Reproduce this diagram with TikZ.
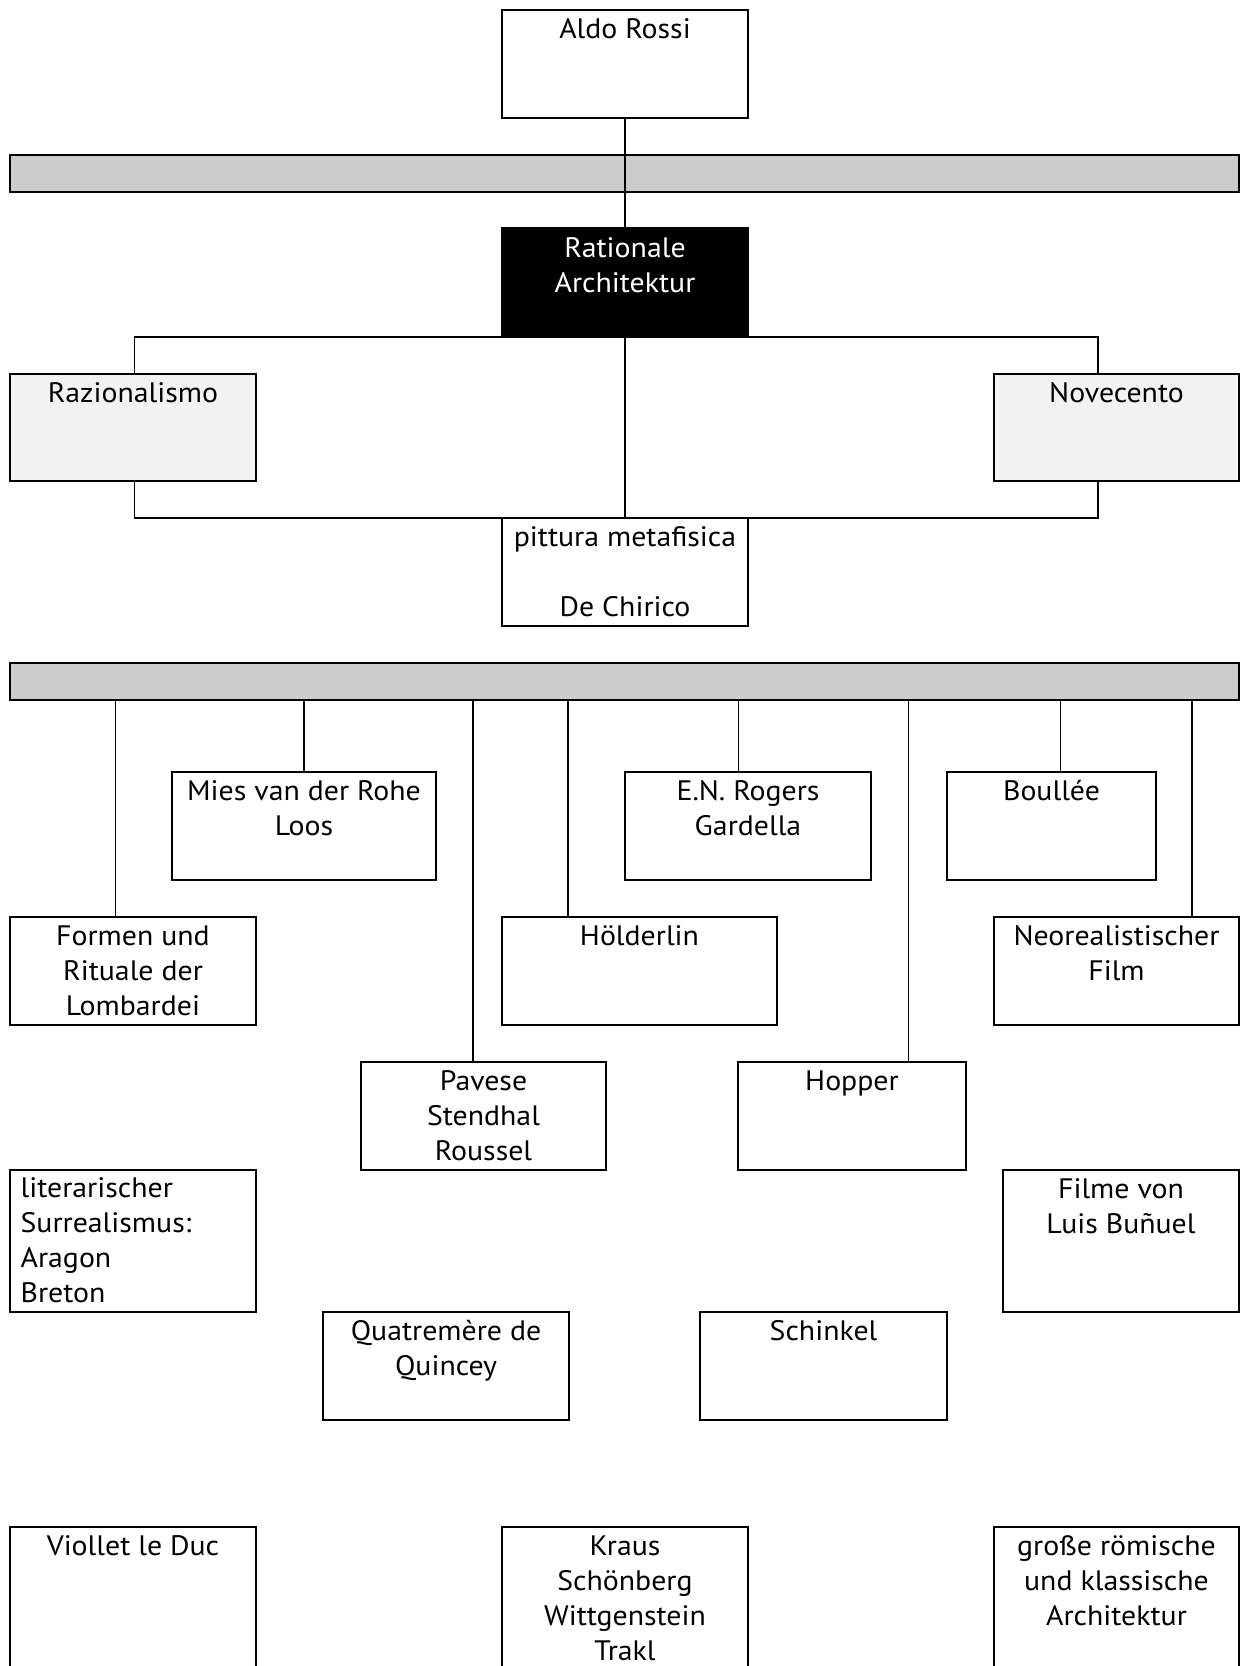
\documentclass[tikz,border=0pt]{standalone}
\usepackage{fontspec}
\setmainfont{PT Sans}[FakeStretch=1.06]
\usetikzlibrary{fit,calc}
\definecolor{bargray}{HTML}{CCCCCC}
\definecolor{lightgray}{HTML}{F2F2F2}
\newcommand\ctx[1]{\parbox[t]{150pt}{\centering #1}}
\newcommand\ltx[1]{\parbox[t]{110pt}{\raggedright #1}}
\begin{document}
\begin{tikzpicture}[x=0.48pt,y=-0.48pt,
  bx/.style={draw, line width=0.75pt, inner sep=0pt, fill=white},
  graybx/.style={bx, fill=lightgray},
  blackbx/.style={bx, fill=black},
  barbx/.style={bx, fill=bargray, line width=0.85pt},
  tx/.style={anchor=base, inner sep=0pt, font=\fontsize{13.5}{16.8}\selectfont},
  ltxs/.style={tx, anchor=base west},
  ln/.style={draw, line width=0.6pt}]
\useasboundingbox (0,0) rectangle (1241,1666);
% boxes
\node[bx, fit={(502,10) (748,118)}] (aldo) {};
\node[barbx, fit={(10,155) (1239,192)}] (bar1) {};
\node[blackbx, fit={(502,228) (748,336)}] (rat) {};
\node[graybx, fit={(10,374) (256,481)}] (raz) {};
\node[graybx, fit={(994,374) (1239,481)}] (nov) {};
\node[bx, fit={(502,518) (748,626)}] (pit) {};
\node[barbx, fit={(10,663) (1239,700)}] (bar2) {};
\node[bx, fit={(172,772) (436,880)}] (mies) {};
\node[bx, fit={(625,772) (871,880)}] (rog) {};
\node[bx, fit={(947,772) (1156,880)}] (boul) {};
\node[bx, fit={(10,917) (256,1025)}] (form) {};
\node[bx, fit={(502,917) (777,1025)}] (hold) {};
\node[bx, fit={(994,917) (1239,1025)}] (neo) {};
\node[bx, fit={(361,1062) (606,1170)}] (pav) {};
\node[bx, fit={(738,1062) (966,1170)}] (hop) {};
\node[bx, fit={(10,1170) (256,1312)}] (lit) {};
\node[bx, fit={(1003,1170) (1239,1312)}] (film) {};
\node[bx, fit={(323,1312) (569,1420)}] (quat) {};
\node[bx, fit={(700,1312) (947,1420)}] (schi) {};
\node[bx, fit={(10,1527) (256,1680)}] (viol) {};
\node[bx, fit={(502,1527) (748,1680)}] (kraus) {};
\node[bx, fit={(994,1527) (1239,1680)}] (gross) {};
% texts
\node[tx] (aldo-t) at ($(aldo.north)+(0,29)$) {\ctx{Aldo Rossi}};
\node[tx, text=white] (rat-t) at ($(rat.north)+(0,30)$) {\ctx{Rationale\\Architektur}};
\node[tx] (raz-t) at ($(raz.north)+(0,29)$) {\ctx{Razionalismo}};
\node[tx] (nov-t) at ($(nov.north)+(0,29)$) {\ctx{Novecento}};
\node[tx] (pit-t) at ($(pit.north)+(0,29)$) {\ctx{pittura metafisica\\[16.8pt]De Chirico}};
\node[tx] (mies-t) at ($(mies.north)+(0,29)$) {\ctx{Mies van der Rohe\\Loos}};
\node[tx] (rog-t) at ($(rog.north)+(0,29)$) {\ctx{E.N. Rogers\\Gardella}};
\node[tx] (boul-t) at ($(boul.north)+(0,29)$) {\ctx{Boullée}};
\node[tx] (form-t) at ($(form.north)+(0,29)$) {\ctx{Formen und\\Rituale der\\Lombardei}};
\node[tx] (hold-t) at ($(hold.north)+(0,29)$) {\ctx{Hölderlin}};
\node[tx] (neo-t) at ($(neo.north)+(0,29)$) {\ctx{Neorealistischer\\Film}};
\node[tx] (pav-t) at ($(pav.north)+(0,29)$) {\ctx{Pavese\\Stendhal\\Roussel}};
\node[tx] (hop-t) at ($(hop.north)+(0,29)$) {\ctx{Hopper}};
\node[ltxs] (lit-t) at ($(lit.north west)+(11,28)$) {\ltx{literarischer\\Surrealismus:\\Aragon\\Breton}};
\node[tx] (film-t) at ($(film.north)+(0,29)$) {\ctx{Filme von\\Luis Buñuel}};
\node[tx] (quat-t) at ($(quat.north)+(0,29)$) {\ctx{Quatremère de\\Quincey}};
\node[tx] (schi-t) at ($(schi.north)+(0,29)$) {\ctx{Schinkel}};
\node[tx] (viol-t) at ($(viol.north)+(0,29)$) {\ctx{Viollet le Duc}};
\node[tx] (kraus-t) at ($(kraus.north)+(0,29)$) {\ctx{Kraus\\Schönberg\\Wittgenstein\\Trakl}};
\node[tx] (gross-t) at ($(gross.north)+(0,29)$) {\ctx{große römische\\und klassische\\Architektur}};
% connectors, upper part
\draw[ln] (aldo.south) -- (rat.north);
\coordinate (jl) at (134.5,337);
\coordinate (jr) at (1098,337);
\coordinate (kl) at (134.5,518);
\coordinate (kr) at (1098,518);
\draw[ln] (jl |- raz.north) -- (jl) -- (jr) -- (jr |- nov.north);
\draw[ln] (rat.south) -- (pit.north);
\draw[ln] (raz.south -| kl) -- (kl) -- (kr) -- (nov.south -| kr);
% connectors from second bar
\coordinate (v1) at (115.5,700);
\coordinate (v2) at (304,700);
\coordinate (v3) at (473,700);
\coordinate (v4) at (568,700);
\coordinate (v5) at (738.5,700);
\coordinate (v6) at (908.5,700);
\coordinate (v7) at (1060.5,700);
\coordinate (v8) at (1192,700);
\draw[ln] (bar2.south -| v1) -- (form.north -| v1);
\draw[ln] (bar2.south -| v2) -- (mies.north -| v2);
\draw[ln] (bar2.south -| v3) -- (pav.north -| v3);
\draw[ln] (bar2.south -| v4) -- (hold.north -| v4);
\draw[ln] (bar2.south -| v5) -- (rog.north -| v5);
\draw[ln] (bar2.south -| v6) -- (hop.north -| v6);
\draw[ln] (bar2.south -| v7) -- (boul.north -| v7);
\draw[ln] (bar2.south -| v8) -- (neo.north -| v8);
\end{tikzpicture}
\end{document}
